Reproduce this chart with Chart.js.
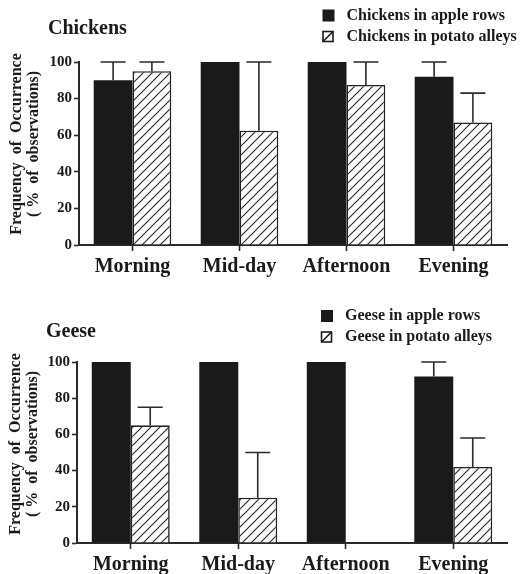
<!DOCTYPE html>
<html>
<head>
<meta charset="utf-8">
<script src="https://cdn.jsdelivr.net/npm/chart.js@4/dist/chart.umd.min.js"></script>
<style>
  html, body { margin: 0; padding: 0; background: #fff; width: 520px; height: 574px; overflow: hidden; }
  .panel { position: absolute; left: 0; width: 520px; height: 299px; }
  #p1 { top: 0; }
  #p2 { top: 299px; }
</style>
</head>
<body>
<div class="panel" id="p1"><canvas id="c1"></canvas></div>
<div class="panel" id="p2"><canvas id="c2"></canvas></div>
<script>
// Time-of-day categories and axis ticks
const periods = ['Morning', 'Mid-day', 'Afternoon', 'Evening'];
const yTicks = [0, 20, 40, 60, 80, 100];

// Chickens: mean frequency (%) and upper end of the error bar
const chickenApple = [90, 100, 100, 92];
const chickenAppleUpper = [100, null, null, 100];
const chickenPotato = [95, 62.5, 87.5, 67];
const chickenPotatoUpper = [100, 100, 100, 83];

// Geese: mean frequency (%) and upper end of the error bar
const geeseApple = [100, 100, 100, 92];
const geeseAppleUpper = [null, null, null, 100];
const geesePotato = [65, 25, 0, 42];
const geesePotatoUpper = [75, 50, null, 58];

const INK = '#1a1a1a';
const SERIF = '"Liberation Serif", "Times New Roman", serif';

function hatchPattern() {
  const s = 9;
  const c = document.createElement('canvas');
  c.width = s; c.height = s;
  const x = c.getContext('2d');
  x.fillStyle = '#fff';
  x.fillRect(0, 0, s, s);
  x.strokeStyle = '#2a2a2a';
  x.lineWidth = 1.15;
  x.beginPath();
  x.moveTo(-1, s + 1); x.lineTo(s + 1, -1);
  x.moveTo(-1, 1); x.lineTo(1, -1);
  x.moveTo(s - 1, s + 1); x.lineTo(s + 1, s - 1);
  x.stroke();
  return x.createPattern(c, 'repeat');
}

// Upper error bars with a cap, drawn from each dataset's "upper" array
const errorBars = {
  id: 'errorBars',
  afterDatasetsDraw(chart) {
    const ctx = chart.ctx;
    const y = chart.scales.y;
    chart.data.datasets.forEach((ds, i) => {
      const meta = chart.getDatasetMeta(i);
      meta.data.forEach((bar, j) => {
        const up = ds.upper[j];
        if (up == null || up <= ds.data[j]) return;
        const yTop = y.getPixelForValue(up);
        const yBar = y.getPixelForValue(ds.data[j]);
        const half = 12.5;
        ctx.save();
        ctx.strokeStyle = '#2a2a2a';
        ctx.lineWidth = 1.6;
        ctx.beginPath();
        ctx.moveTo(bar.x, yBar);
        ctx.lineTo(bar.x, yTop);
        ctx.moveTo(bar.x - half, yTop);
        ctx.lineTo(bar.x + half, yTop);
        ctx.stroke();
        ctx.restore();
      });
    });
  }
};

// Panel title, two-row legend and rotated y-axis title
const annotations = {
  id: 'annotations',
  afterDraw(chart) {
    const o = chart.options.plugins.annotations;
    const ctx = chart.ctx;
    ctx.save();
    ctx.fillStyle = INK;
    ctx.textBaseline = 'middle';
    ctx.textAlign = 'left';
    ctx.font = 'bold 20px ' + SERIF;
    ctx.fillText(o.title, o.titleX, o.titleY);

    ctx.font = 'bold 16px ' + SERIF;
    chart.data.datasets.forEach((ds, i) => {
      const cy = o.legendY + i * 21;
      const bx = o.legendX;
      if (ds.hatched) {
        ctx.fillStyle = '#fff';
        ctx.fillRect(bx, cy - 5.5, 11, 11);
        ctx.strokeStyle = INK;
        ctx.lineWidth = 1.6;
        ctx.strokeRect(bx + 0.5, cy - 5, 10, 10);
        ctx.beginPath();
        ctx.moveTo(bx + 0.5, cy + 5);
        ctx.lineTo(bx + 10.5, cy - 5);
        ctx.stroke();
      } else {
        ctx.fillStyle = INK;
        ctx.fillRect(bx, cy - 6, 12, 12);
      }
      ctx.fillStyle = INK;
      ctx.fillText(ds.label, o.legendX + 24, cy);
    });

    ctx.translate(o.yTitleX, o.yTitleY);
    ctx.rotate(-Math.PI / 2);
    ctx.textAlign = 'center';
    ctx.font = 'bold 16px ' + SERIF;
    ctx.fillText('Frequency  of  Occurrence', 0, 0);
    ctx.fillText('( %  of  observations)', 0, 16.5);
    ctx.restore();
  }
};

function makeChart(id, apple, appleUpper, potato, potatoUpper, labels, geo) {
  const hatch = hatchPattern();
  return new Chart(document.getElementById(id), {
    type: 'bar',
    data: {
      labels: periods,
      datasets: [
        {
          label: labels[0],
          data: apple,
          upper: appleUpper,
          backgroundColor: INK,
          borderColor: INK,
          borderWidth: 0
        },
        {
          label: labels[1],
          data: potato,
          upper: potatoUpper,
          hatched: true,
          backgroundColor: hatch,
          borderColor: '#222',
          borderWidth: (c) => (c.raw > 0 ? 1.6 : 0),
          borderSkipped: 'bottom'
        }
      ]
    },
    options: {
      responsive: true,
      maintainAspectRatio: false,
      animation: false,
      datasets: { bar: { categoryPercentage: 0.725, barPercentage: 1.0 } },
      layout: { padding: { top: geo.top, right: geo.right, left: 0, bottom: 0 } },
      plugins: {
        legend: { display: false },
        tooltip: { enabled: false },
        annotations: geo.ann
      },
      scales: {
        x: {
          grid: {
            display: true,
            drawOnChartArea: false,
            offset: false,
            tickLength: 6,
            tickWidth: 1.6,
            tickColor: '#2a2a2a'
          },
          border: { display: true, color: '#2a2a2a', width: 2 },
          ticks: {
            color: INK,
            padding: 4,
            font: { family: SERIF, size: 20, weight: 'bold' }
          },
          afterFit(s) { s.height = geo.xHeight; }
        },
        y: {
          min: 0,
          max: 100,
          afterBuildTicks(s) { s.ticks = yTicks.map(v => ({ value: v })); },
          grid: {
            display: true,
            drawOnChartArea: false,
            tickLength: 5,
            tickWidth: 1.6,
            tickColor: '#2a2a2a'
          },
          border: { display: true, color: '#2a2a2a', width: 2 },
          ticks: {
            color: INK,
            padding: 2,
            font: { family: SERIF, size: 15, weight: 'bold' }
          },
          afterFit(s) { s.width = geo.yWidth; }
        }
      }
    },
    plugins: [errorBars, annotations]
  });
}

makeChart('c1', chickenApple, chickenAppleUpper, chickenPotato, chickenPotatoUpper,
  ['Chickens in apple rows', 'Chickens in potato alleys'],
  { top: 62, right: 13, xHeight: 54, yWidth: 79,
    ann: { title: 'Chickens', titleX: 48, titleY: 29, legendX: 322.5, legendY: 15.5, yTitleX: 17, yTitleY: 144 } });

makeChart('c2', geeseApple, geeseAppleUpper, geesePotato, geesePotatoUpper,
  ['Geese in apple rows', 'Geese in potato alleys'],
  { top: 63, right: 13, xHeight: 55, yWidth: 77,
    ann: { title: 'Geese', titleX: 46, titleY: 33, legendX: 321, legendY: 17, yTitleX: 16, yTitleY: 145 } });
</script>
</body>
</html>
